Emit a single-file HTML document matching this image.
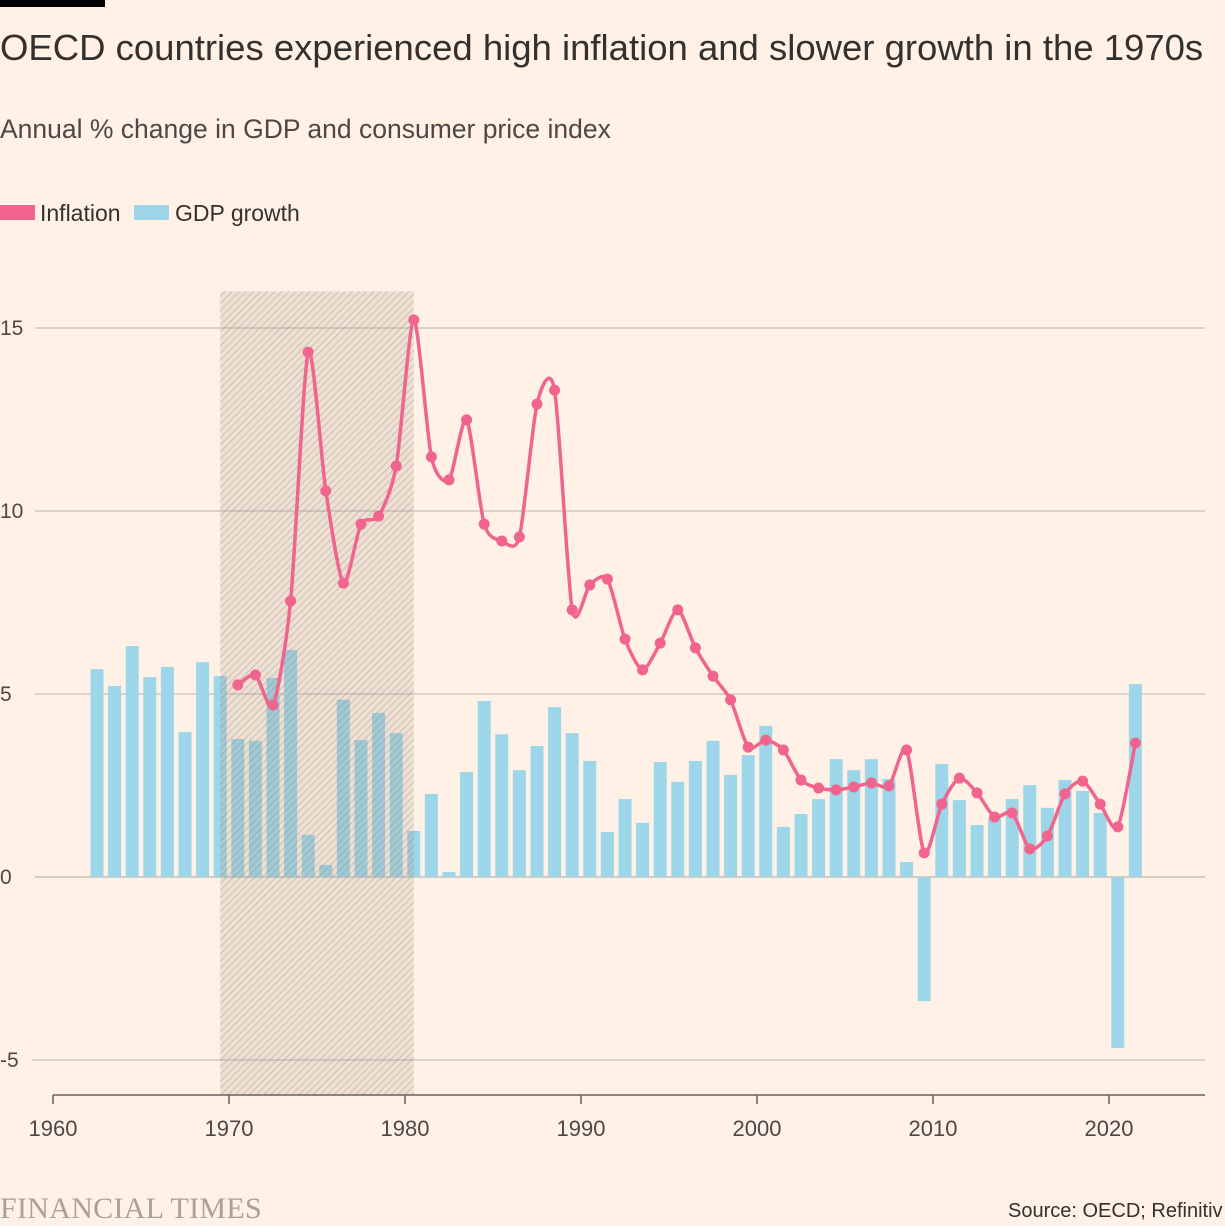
<!DOCTYPE html>
<html><head><meta charset="utf-8">
<style>
html,body{margin:0;padding:0;background:#fff1e5;}
body{width:1225px;height:1225px;overflow:hidden;font-family:"Liberation Sans",sans-serif;position:relative;}
.t{position:absolute;white-space:nowrap;color:#33302e;}
</style></head>
<body>
<div style="position:absolute;left:0;top:0;width:105px;height:7px;background:#000"></div>
<div class="t" style="left:0;top:27px;font-size:36.5px;color:#33302e">OECD countries experienced high inflation and slower growth in the 1970s</div>
<div class="t" style="left:0;top:114px;font-size:26.5px;color:#4d4845">Annual % change in GDP and consumer price index</div>
<div style="position:absolute;left:0;top:200px;height:28px;font-size:23px;color:#33302e">
  <span style="position:absolute;left:0;top:5px;width:35px;height:15px;background:#f0648e"></span>
  <span class="t" style="left:40px;top:0">Inflation</span>
  <span style="position:absolute;left:134px;top:5px;width:35px;height:15px;background:#9dd6e9"></span>
  <span class="t" style="left:175px;top:0">GDP growth</span>
</div>
<svg id="chart" width="1225" height="1225" style="position:absolute;left:0;top:0">
<defs>
<pattern id="hatch" patternUnits="userSpaceOnUse" width="5" height="5" patternTransform="rotate(45)">
<rect width="5" height="5" fill="rgba(170,155,140,0.2)"/>
<line x1="0" y1="0" x2="0" y2="5" stroke="rgba(140,125,110,0.45)" stroke-width="1.5"/>
</pattern>
</defs>
</svg>
<div class="t" style="left:0;top:1192px;font-family:'Liberation Serif',serif;font-size:30px;color:#aaa09a;letter-spacing:0.3px">FINANCIAL TIMES</div>
<div class="t" style="left:1008px;top:1200px;font-size:20px;color:#33302e">Source: OECD; Refinitiv</div>
<script>
const gdpYears=[1962,1963,1964,1965,1966,1967,1968,1969,1970,1971,1972,1973,1974,1975,1976,1977,1978,1979,1980,1981,1982,1983,1984,1985,1986,1987,1988,1989,1990,1991,1992,1993,1994,1995,1996,1997,1998,1999,2000,2001,2002,2003,2004,2005,2006,2007,2008,2009,2010,2011,2012,2013,2014,2015,2016,2017,2018,2019,2020,2021];
const gdpValues=[5.68,5.22,6.31,5.46,5.74,3.96,5.87,5.49,3.77,3.72,5.44,6.2,1.15,0.33,4.84,3.74,4.48,3.93,1.26,2.27,0.14,2.87,4.81,3.9,2.92,3.58,4.64,3.93,3.17,1.23,2.13,1.48,3.14,2.6,3.17,3.72,2.79,3.33,4.13,1.37,1.72,2.13,3.22,2.92,3.22,2.68,0.41,-3.39,3.09,2.1,1.42,1.61,2.13,2.51,1.89,2.65,2.35,1.75,-4.67,5.27];
const infYears=[1970,1971,1972,1973,1974,1975,1976,1977,1978,1979,1980,1981,1982,1983,1984,1985,1986,1987,1988,1989,1990,1991,1992,1993,1994,1995,1996,1997,1998,1999,2000,2001,2002,2003,2004,2005,2006,2007,2008,2009,2010,2011,2012,2013,2014,2015,2016,2017,2018,2019,2020,2021];
const infValues=[5.25,5.52,4.7,7.54,14.34,10.55,8.03,9.64,9.86,11.23,15.22,11.48,10.85,12.49,9.64,9.18,9.29,12.92,13.3,7.3,7.98,8.14,6.5,5.66,6.39,7.3,6.26,5.49,4.84,3.55,3.74,3.47,2.65,2.43,2.38,2.46,2.57,2.49,3.47,0.66,1.99,2.7,2.3,1.64,1.75,0.77,1.12,2.27,2.62,1.99,1.37,3.66];
const yTicks=[-5,0,5,10,15];
const xTicks=[1960,1970,1980,1990,2000,2010,2020];
const shadeRange=[1969.5,1980.5];

const NS='http://www.w3.org/2000/svg';
const svg=document.getElementById('chart');
const X=yr=>53+(yr-1960)*17.6;
const Y=v=>877-v*36.6;
function mk(tag,attrs,parent){const e=document.createElementNS(NS,tag);for(const k in attrs)e.setAttribute(k,attrs[k]);(parent||svg).appendChild(e);return e;}

yTicks.forEach(v=>{
  const g=mk('line',{x1:v<0?32:35,x2:1205,y1:Y(v),y2:Y(v),stroke:'#c9bfb6','stroke-width':v===0?1.5:1.2});
  
  
  const t=mk('text',{x:0,y:Y(v)+7,'font-size':21,fill:'#4d4845','font-family':'Liberation Sans, sans-serif'});
  t.textContent=v;
  
  
});
gdpYears.forEach((yr,i)=>{
  const v=gdpValues[i];
  const r=mk('rect',{x:X(yr+0.5)-6.5,width:13,y:Math.min(Y(v),Y(0)),height:Math.abs(Y(v)-Y(0)),fill:'#9dd6e9'});
  
  
});
const sh=mk('rect',{x:X(shadeRange[0]),width:X(shadeRange[1])-X(shadeRange[0]),y:Y(16),height:1095-Y(16),fill:'url(#hatch)'});


const ax=mk('line',{x1:53,x2:1205,y1:1095,y2:1095,stroke:'#66605c','stroke-width':1.5});


xTicks.forEach(yr=>{
  const tk=mk('line',{x1:X(yr),x2:X(yr),y1:1095,y2:1104,stroke:'#66605c','stroke-width':1.5});
  
  
  const t=mk('text',{x:X(yr),y:1136,'font-size':22,fill:'#4d4845','text-anchor':'middle','font-family':'Liberation Sans, sans-serif'});
  t.textContent=yr;
  
  
});
const pts=infYears.map((yr,i)=>[X(yr+0.5),Y(infValues[i])]);
let d='M'+pts[0][0]+','+pts[0][1];
const k=8;
for(let i=0;i<pts.length-1;i++){
  const p0=pts[Math.max(0,i-1)],p1=pts[i],p2=pts[i+1],p3=pts[Math.min(pts.length-1,i+2)];
  const c1=[p1[0]+(p2[0]-p0[0])/k,p1[1]+(p2[1]-p0[1])/k];
  const c2=[p2[0]-(p3[0]-p1[0])/k,p2[1]-(p3[1]-p1[1])/k];
  d+=' C'+c1[0]+','+c1[1]+' '+c2[0]+','+c2[1]+' '+p2[0]+','+p2[1];
}
const ln=mk('path',{d:d,fill:'none',stroke:'#f0648e','stroke-width':3.5});


pts.forEach((p,i)=>{
  const c=mk('circle',{cx:p[0],cy:p[1],r:5.5,fill:'#f0648e'});
  
  
});
</script>
</body></html>
